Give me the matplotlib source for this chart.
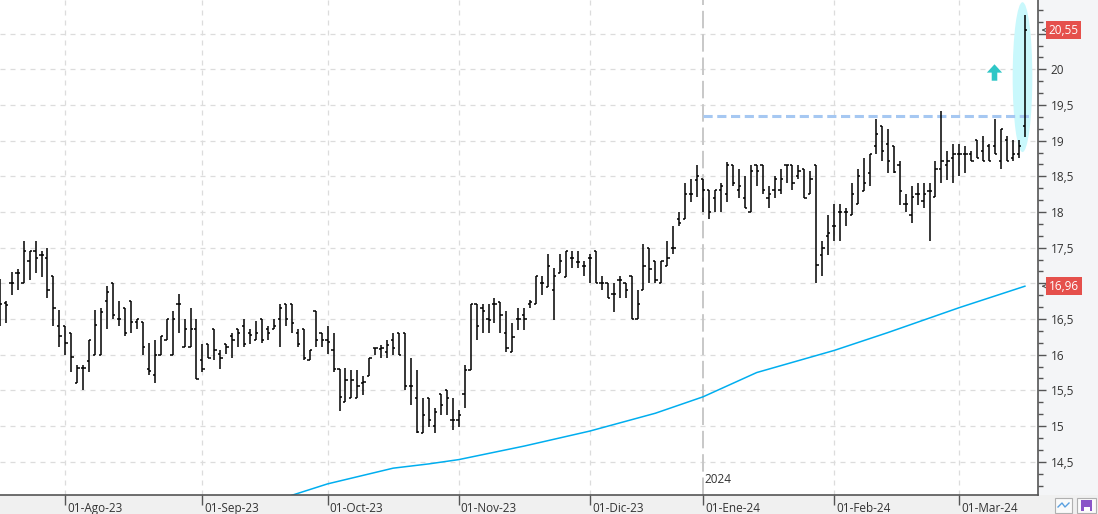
import matplotlib
matplotlib.use("Agg")
import matplotlib.pyplot as plt
import matplotlib.transforms as mtransforms
from matplotlib.patches import Ellipse, Rectangle
from matplotlib.ticker import MultipleLocator, FuncFormatter
import numpy as np
import pandas as pd

# Datos
START = "2023-07-17"
END = "2024-03-18"
HOLIDAYS = ["2023-12-25", "2023-12-26", "2024-01-01"]

opens = [
    16.60, 16.72, 17.00, 17.15, 17.00, 17.31, 17.45, 17.40, 17.35, 17.10,
    16.40, 16.40, 16.31, 15.61, 15.81, 15.91, 16.00, 16.00, 16.75, 17.00,
    16.50, 16.65, 16.75, 16.46, 16.46, 15.80, 15.71, 16.00, 16.21, 16.00,
    16.71, 16.11, 16.11, 16.36, 15.92, 16.15, 16.36, 16.01, 16.15, 16.26,
    16.36, 16.40, 16.31, 16.21, 16.50, 16.36, 16.36, 16.50, 16.71, 16.71,
    16.31, 16.36, 15.92, 16.61, 16.31, 16.21, 16.06, 15.80, 15.34, 15.40,
    15.40, 15.60, 15.70, 16.10, 16.08, 16.04, 16.20, 16.30, 16.30, 15.56,
    15.40, 14.90, 15.40, 15.00, 15.45, 15.50, 15.09, 15.09, 15.45, 15.79,
    16.71, 16.65, 16.50, 16.71, 16.74, 16.30, 16.04, 16.50, 16.55, 16.71,
    16.71, 17.00, 16.95, 16.91, 17.15, 17.09, 17.35, 17.30, 17.25, 17.35,
    17.46, 17.00, 17.00, 16.85, 17.05, 17.00, 17.10, 16.50, 16.91, 17.50,
    17.31, 17.00, 17.25, 17.50, 17.90, 17.90, 18.25, 18.45, 18.46, 18.31,
    18.20, 18.31, 18.25, 18.66, 18.31, 18.20, 18.00, 18.66, 18.66, 18.20,
    18.31, 18.31, 18.66, 18.66, 18.50, 18.60, 18.25, 18.66, 17.40, 17.66,
    17.80, 18.00, 18.00, 17.96, 18.11, 18.30, 18.55, 18.92, 19.21, 18.95,
    18.92, 18.66, 18.11, 17.96, 18.25, 18.16, 18.30, 18.21, 18.60, 18.66,
    18.75, 18.81, 18.81, 18.81, 19.01, 18.86, 18.92, 18.92, 18.71, 19.01,
    18.75, 18.81, 19.20,
]
highs = [
    17.06, 16.75, 17.16, 17.20, 17.60, 17.45, 17.60, 17.45, 17.50, 17.10,
    16.62, 16.40, 16.31, 15.86, 15.86, 16.21, 16.62, 16.65, 16.96, 17.00,
    16.75, 16.65, 16.75, 16.50, 16.46, 16.16, 16.21, 16.26, 16.50, 16.61,
    16.85, 16.50, 16.65, 16.50, 16.15, 16.15, 16.36, 16.06, 16.15, 16.31,
    16.36, 16.50, 16.36, 16.47, 16.50, 16.40, 16.50, 16.71, 16.71, 16.71,
    16.36, 16.36, 16.06, 16.61, 16.31, 16.40, 16.31, 15.80, 15.81, 15.79,
    15.79, 15.70, 15.95, 16.10, 16.14, 16.20, 16.30, 16.30, 16.30, 15.95,
    15.79, 15.40, 15.40, 15.25, 15.45, 15.50, 15.40, 15.22, 15.85, 16.71,
    16.71, 16.71, 16.71, 16.80, 16.74, 16.61, 16.45, 16.65, 16.65, 16.76,
    17.10, 17.10, 17.41, 17.21, 17.41, 17.46, 17.46, 17.46, 17.31, 17.41,
    17.46, 17.10, 17.00, 17.00, 17.10, 17.00, 17.10, 16.91, 17.55, 17.50,
    17.31, 17.31, 17.60, 17.80, 18.00, 18.40, 18.46, 18.66, 18.46, 18.31,
    18.31, 18.41, 18.70, 18.66, 18.60, 18.50, 18.66, 18.66, 18.66, 18.36,
    18.50, 18.60, 18.66, 18.66, 18.66, 18.60, 18.57, 18.66, 17.60, 17.96,
    18.11, 18.11, 18.05, 18.40, 18.60, 18.75, 18.81, 19.30, 19.21, 19.16,
    18.92, 18.71, 18.25, 18.36, 18.40, 18.40, 18.40, 18.71, 19.42, 18.86,
    18.95, 18.95, 18.92, 18.86, 19.01, 19.07, 18.95, 19.30, 19.16, 19.07,
    19.01, 19.01, 20.76,
]
lows = [
    16.40, 16.45, 16.84, 16.90, 17.00, 17.05, 17.15, 17.09, 16.80, 16.40,
    16.11, 15.99, 15.76, 15.61, 15.51, 15.76, 16.00, 16.00, 16.36, 16.50,
    16.40, 16.26, 16.31, 16.36, 16.00, 15.71, 15.61, 16.00, 16.21, 16.00,
    16.30, 16.11, 16.11, 15.66, 15.76, 15.95, 15.92, 15.80, 16.01, 15.95,
    16.11, 16.11, 16.15, 16.21, 16.16, 16.21, 16.36, 16.11, 16.40, 16.30,
    16.11, 15.92, 15.92, 16.11, 16.11, 16.01, 15.76, 15.21, 15.34, 15.40,
    15.40, 15.43, 15.70, 16.00, 15.95, 15.95, 16.00, 16.00, 15.50, 15.30,
    14.90, 14.90, 14.99, 14.90, 15.15, 15.15, 14.95, 14.99, 15.25, 15.79,
    16.20, 16.30, 16.30, 16.45, 16.30, 16.04, 16.04, 16.35, 16.35, 16.65,
    16.71, 16.84, 16.95, 16.49, 17.15, 17.09, 17.21, 17.21, 17.10, 17.00,
    17.00, 16.91, 16.80, 16.60, 16.80, 16.80, 16.50, 16.50, 16.91, 17.00,
    17.00, 17.00, 17.25, 17.41, 17.80, 17.90, 18.14, 18.21, 18.00, 17.90,
    18.00, 18.00, 18.14, 18.36, 18.20, 18.05, 18.00, 18.36, 18.25, 18.05,
    18.20, 18.25, 18.40, 18.31, 18.46, 18.20, 18.25, 17.00, 17.10, 17.40,
    17.60, 17.60, 17.80, 17.96, 18.11, 18.30, 18.36, 18.81, 18.71, 18.55,
    18.55, 18.10, 18.00, 17.85, 18.10, 18.05, 17.60, 18.21, 18.40, 18.45,
    18.40, 18.50, 18.55, 18.71, 18.75, 18.71, 18.71, 18.81, 18.60, 18.71,
    18.71, 18.75, 19.05,
]
closes = [
    16.71, 16.70, 17.00, 17.15, 17.45, 17.45, 17.35, 17.40, 16.91, 16.65,
    16.26, 16.16, 15.97, 15.81, 15.81, 16.20, 16.41, 16.60, 16.88, 16.55,
    16.50, 16.31, 16.46, 16.50, 16.11, 15.77, 16.00, 16.26, 16.50, 16.50,
    16.71, 16.36, 16.36, 15.66, 15.80, 15.95, 16.06, 15.95, 16.11, 16.21,
    16.31, 16.15, 16.27, 16.31, 16.21, 16.31, 16.40, 16.65, 16.50, 16.45,
    16.15, 15.95, 16.06, 16.21, 16.21, 16.18, 15.80, 15.41, 15.65, 15.65,
    15.56, 15.62, 15.95, 16.10, 16.10, 16.14, 16.10, 16.00, 15.56, 15.56,
    14.92, 15.15, 15.09, 15.20, 15.30, 15.40, 15.09, 15.15, 15.79, 16.71,
    16.40, 16.61, 16.48, 16.71, 16.55, 16.10, 16.25, 16.50, 16.50, 16.74,
    17.10, 17.00, 17.25, 17.10, 17.31, 17.46, 17.35, 17.30, 17.25, 17.35,
    17.00, 17.00, 16.80, 16.85, 17.05, 16.91, 16.50, 16.71, 17.25, 17.20,
    17.05, 17.31, 17.35, 17.50, 17.85, 18.25, 18.25, 18.50, 18.31, 18.00,
    18.31, 18.36, 18.66, 18.40, 18.36, 18.05, 18.57, 18.57, 18.31, 18.25,
    18.46, 18.46, 18.66, 18.40, 18.57, 18.20, 18.46, 17.26, 17.50, 17.70,
    17.80, 18.00, 18.00, 18.25, 18.50, 18.40, 18.81, 19.10, 18.86, 18.72,
    18.56, 18.30, 18.11, 18.21, 18.25, 18.25, 18.30, 18.60, 18.71, 18.71,
    18.81, 18.81, 18.81, 18.71, 18.75, 18.71, 18.71, 18.81, 19.16, 18.71,
    18.81, 18.92, 20.55,
]

# media movil
ma_dates = ["2023-09-22", "2023-10-02", "2023-10-10", "2023-10-17", "2023-10-25",
            "2023-11-01", "2023-11-16", "2023-12-01", "2023-12-18", "2024-01-02",
            "2024-01-15", "2024-02-01", "2024-02-14", "2024-03-01", "2024-03-18"]
ma_values = [14.03, 14.19, 14.31, 14.41, 14.47, 14.53, 14.72, 14.93, 15.18, 15.41,
             15.75, 16.06, 16.31, 16.66, 16.96]

RESIST = 19.35
RESIST_FROM = "2024-01-02"

MESES = ["Ene", "Feb", "Mar", "Abr", "May", "Jun", "Jul", "Ago", "Sep", "Oct", "Nov", "Dic"]

# Fechas de sesion
dates = pd.bdate_range(START, END)
dates = dates[~dates.isin(pd.to_datetime(HOLIDAYS))]
pos = {d: i for i, d in enumerate(dates)}
x = np.arange(len(dates))

plt.rcParams['font.family'] = ['Open Sans', 'DejaVu Sans']

W, H = 1098, 514
fig = plt.figure(figsize=(W / 100, H / 100), dpi=100)
fig.patch.set_facecolor('white')
fig.add_artist(Rectangle((0, 0), 1, 19 / H, transform=fig.transFigure,
                         fc='#f0f0f0', ec='none', zorder=-2))
fig.add_artist(Rectangle((1038 / W, 19 / H), 60 / W, 1, transform=fig.transFigure,
                         fc='#f4f5f7', ec='none', zorder=-2))

ax = fig.add_axes([0, 19 / H, 1038 / W, 495 / H])
ax.set_facecolor('white')
ax.set_xlim(0.03, 174.2)
ax.set_ylim(14.034, 20.971)

# Rejilla
for v in np.arange(14.5, 21.0, 0.5):
    ax.axhline(v, color='#dcdcdc', lw=0.9, ls=(0, (4, 4)), zorder=0)

month_idx = []
for d in dates[1:]:
    prev = dates[pos[d] - 1]
    if d.month != prev.month:
        month_idx.append(pos[d])
for i in month_idx:
    d = dates[i]
    if d.month == 1:
        ax.axvline(i, color='#c8c8c8', lw=1.4, ls=(0, (9, 3)), zorder=0)
        ax.text(i + 0.3, 0.018, str(d.year), transform=ax.get_xaxis_transform(),
                fontsize=8.5, color='#333', ha='left', va='bottom')
    else:
        ax.axvline(i, color='#dcdcdc', lw=0.9, ls=(0, (4, 4)), zorder=0)

# Elipse y flecha
ax.add_patch(Ellipse((171.6, 19.89), 3.3, 2.1, fc='#c9f8fc', ec='none', zorder=1))
ax.annotate('', xy=(166.9, 20.07), xytext=(166.9, 19.84),
            arrowprops=dict(width=4, headwidth=11, headlength=6, color='#2ec6c6', lw=0),
            zorder=3)

# Resistencia
ax.hlines(RESIST, pos[pd.Timestamp(RESIST_FROM)], len(dates) - 0.3,
          color='#a6c8f2', lw=2.2, linestyles=[(0, (3, 1.5))], zorder=2)

# Media movil
ma_x = [pos[pd.Timestamp(d)] for d in ma_dates]
ax.plot(ma_x, ma_values, color='#00aeef', lw=1.1, zorder=2)

# Barras OHLC
ax.vlines(x, lows, highs, color='black', lw=1.1, zorder=4)
ax.hlines(opens, x - 0.38, x, color='black', lw=1.1, zorder=4)
ax.hlines(closes, x, x + 0.38, color='black', lw=1.1, zorder=4)

# Ejes
for s in ['top', 'left']:
    ax.spines[s].set_visible(False)
for s in ['right', 'bottom']:
    ax.spines[s].set_color('#555555')
    ax.spines[s].set_linewidth(1.2)

# etiquetas de precio a la derecha (tapan las marcas cercanas)
last_prices = [closes[-1], ma_values[-1]]


def fmt_tick(v, p):
    if any(abs(v - lp) < 0.12 for lp in last_prices):
        return ""
    return f"{v:g}".replace(".", ",")


ax.yaxis.tick_right()
ax.yaxis.set_major_locator(MultipleLocator(0.5))
ax.yaxis.set_minor_locator(MultipleLocator(0.5 / 3))
ax.yaxis.set_major_formatter(FuncFormatter(fmt_tick))
ax.tick_params(axis='y', which='major', length=6, width=1, color='#555',
               labelcolor='#333', labelsize=8.5, pad=3)
ax.tick_params(axis='y', which='minor', length=3.5, width=1, color='#555')

ax.set_xticks(month_idx)
ax.tick_params(axis='x', length=7, width=1, color='#555', labelbottom=False)
for i in month_idx:
    d = dates[i]
    ax.text(i + 0.35, -0.028, f"01-{MESES[d.month - 1]}-{d.strftime('%y')}",
            transform=ax.get_xaxis_transform(), fontsize=8.5, color='#333',
            ha='left', va='center', clip_on=False)

ytr = mtransforms.blended_transform_factory(ax.transAxes, ax.transData)
for val in last_prices:
    ax.text(1.0105, val, f"{val:.2f}".replace(".", ","), transform=ytr,
            fontsize=8.5, color='white', ha='left', va='center', clip_on=False,
            zorder=10, bbox=dict(boxstyle='square,pad=0.22', fc='#e5504c', ec='none'))
    ax.annotate('', xy=(1.0008, val), xytext=(1.0085, val), xycoords=ytr,
                textcoords=ytr, arrowprops=dict(arrowstyle='->', color='#555', lw=0.8),
                annotation_clip=False)

# Iconos de la esquina
fig.add_artist(Rectangle((1055 / W, 1 / H), 17 / W, 15 / H, transform=fig.transFigure,
                         fc='#fafafa', ec='#b0b0b0', lw=0.8))
fig.add_artist(plt.Line2D([1058 / W, 1062 / W, 1065 / W, 1069 / W],
                          [7 / H, 11 / H, 7 / H, 11 / H], transform=fig.transFigure,
                          color='#5aa0e0', lw=1))
fig.add_artist(Rectangle((1077 / W, 1 / H), 19 / W, 15 / H, transform=fig.transFigure,
                         fc='#fafafa', ec='#b0b0b0', lw=0.8))
fig.add_artist(Rectangle((1081 / W, 3 / H), 11 / W, 11 / H, transform=fig.transFigure,
                         fc='#8a55c8', ec='none'))
fig.add_artist(Rectangle((1083.5 / W, 3 / H), 6 / W, 4 / H, transform=fig.transFigure,
                         fc='white', ec='none'))

fig.savefig("out.png", dpi=100, facecolor=fig.get_facecolor())
